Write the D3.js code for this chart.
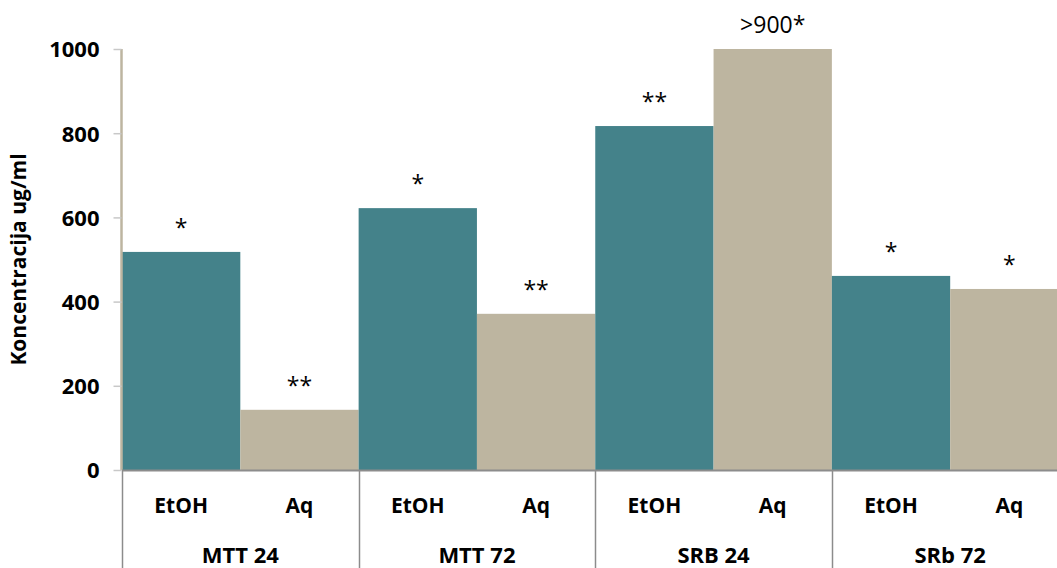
<!DOCTYPE html>
<html>
<head>
<meta charset="utf-8">
<script src="https://cdn.jsdelivr.net/npm/d3@7"></script>
<style>
  html, body { margin: 0; padding: 0; background: #fff; }
  svg { display: block; }
  text { font-family: "Open Sans", "Liberation Sans", sans-serif; fill: #000; }
</style>
</head>
<body>
<svg id="chart" width="1057" height="568"></svg>
<script>
// Concentration (ug/ml) per assay and extract
const groups = ["MTT 24", "MTT 72", "SRB 24", "SRb 72"];
const seriesNames = ["EtOH", "Aq"];
const etohValues = [518, 622, 817, 461];
const aqValues = [143, 371, 1000, 430];
const etohLabels = ["*", "*", "**", "*"];
const aqLabels = ["**", "**", ">900*", "*"];
const yTicks = [0, 200, 400, 600, 800, 1000];
const colors = { EtOH: "#44828a", Aq: "#bdb5a0" };

const rows = groups.map((g, i) => ({
  group: g,
  items: [
    { series: "EtOH", value: etohValues[i], label: etohLabels[i] },
    { series: "Aq", value: aqValues[i], label: aqLabels[i] }
  ]
}));

const svg = d3.select("#chart");
const W = 1057, H = 568;
const x0 = 122, yZero = 470, yTop = 49;

const x = d3.scaleBand().domain(groups).range([x0, 1068.5]).padding(0);
const xs = d3.scaleBand().domain(seriesNames).range([0, x.bandwidth()]).padding(0);
const y = d3.scaleLinear().domain([0, 1000]).range([yZero, yTop]);

// bars
const g = svg.append("g");
const grp = g.selectAll("g.grp").data(rows).join("g")
  .attr("class", "grp")
  .attr("transform", d => `translate(${x(d.group)},0)`);

grp.selectAll("rect").data(d => d.items).join("rect")
  .attr("x", d => xs(d.series))
  .attr("width", xs.bandwidth())
  .attr("y", d => y(d.value))
  .attr("height", d => y(0) - y(d.value))
  .attr("fill", d => colors[d.series]);

// significance labels above bars
grp.selectAll("text.sig").data(d => d.items).join("text")
  .attr("class", "sig")
  .attr("x", d => xs(d.series) + xs.bandwidth() / 2)
  .attr("y", d => y(d.value) - 16)
  .attr("text-anchor", "middle")
  .style("font-size", "23px")
  .text(d => d.label);

// y axis
const yAxis = svg.append("g")
  .attr("transform", `translate(${x0 - 0.5},0)`)
  .call(d3.axisLeft(y).tickValues(yTicks).tickSize(8).tickPadding(14).tickFormat(d3.format("d")));
yAxis.select(".domain").attr("stroke", "#bdb5a0").attr("stroke-width", 2.5)
  .attr("d", `M0,${yTop}V${yZero}`);
yAxis.selectAll(".tick line").attr("stroke", "#c8c8c8").attr("stroke-width", 1.5);
yAxis.selectAll(".tick text")
  .style("font-size", "22px").style("font-weight", "bold")
  .attr("fill", "#000").attr("dy", "0.36em");

// y axis title
svg.append("text")
  .attr("transform", `translate(26,${(yTop + yZero) / 2}) rotate(-90)`)
  .attr("text-anchor", "middle")
  .style("font-size", "21px").style("font-weight", "bold")
  .text("Koncentracija ug/ml");

// category axis: baseline and group separators
const axisColor = "#8c8c8c";
svg.append("line")
  .attr("x1", x0).attr("x2", W).attr("y1", yZero + 0.5).attr("y2", yZero + 0.5)
  .attr("stroke", axisColor).attr("stroke-width", 2);
const bounds = groups.map(d => x(d)).concat([x.range()[1]]);
svg.selectAll("line.sep").data(bounds).join("line")
  .attr("class", "sep")
  .attr("x1", d => Math.round(d) + 0.5).attr("x2", d => Math.round(d) + 0.5)
  .attr("y1", yZero).attr("y2", H)
  .attr("stroke", axisColor).attr("stroke-width", 1.5);

// series labels and group labels
const lab = svg.append("g");
rows.forEach(r => {
  seriesNames.forEach(s => {
    lab.append("text")
      .attr("x", x(r.group) + xs(s) + xs.bandwidth() / 2)
      .attr("y", 513)
      .attr("text-anchor", "middle")
      .style("font-size", "21px").style("font-weight", "bold")
      .text(s);
  });
  lab.append("text")
    .attr("x", x(r.group) + x.bandwidth() / 2)
    .attr("y", 563)
    .attr("text-anchor", "middle")
    .style("font-size", "22px").style("font-weight", "bold")
    .text(r.group);
});
</script>
</body>
</html>
